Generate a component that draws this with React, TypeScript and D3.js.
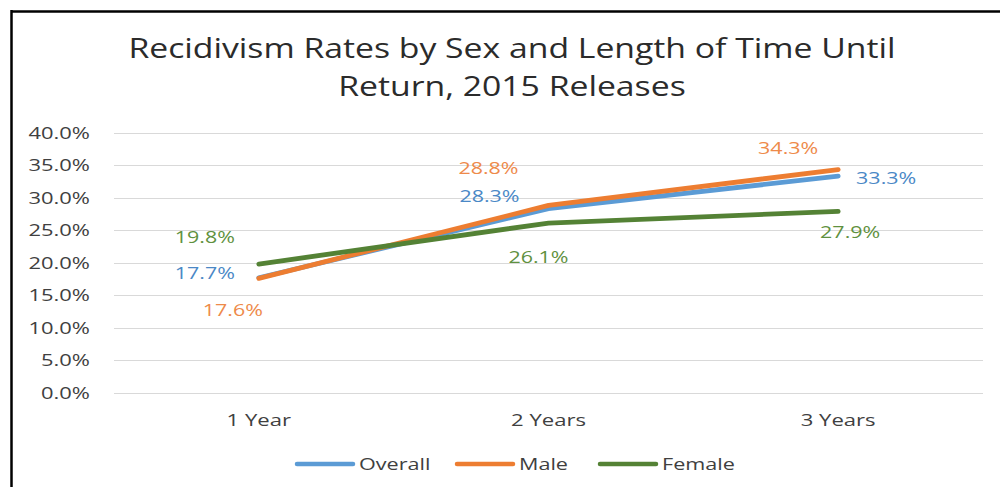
import React from "react";
import * as d3 from "d3";

const categories = ["1 Year", "2 Years", "3 Years"];
const overall = [17.7, 28.3, 33.3];
const male = [17.6, 28.8, 34.3];
const female = [19.8, 26.1, 27.9];
const yTicks = [0, 5, 10, 15, 20, 25, 30, 35, 40];
const seriesNames = ["Overall", "Male", "Female"];
const titleLines = ["Recidivism Rates by Sex and Length of Time Until", "Return, 2015 Releases"];

const W = 1000;
const H = 487;
const FONT = "'Open Sans', sans-serif";
const SX = 1.3;

const series = [
  { name: seriesNames[0], values: overall, color: "#5B9BD5", label: "#4A88C6", off: [[-54, -5], [-59, -13], [48, 2]] },
  { name: seriesNames[1], values: male, color: "#ED7D31", label: "#EE8A4A", off: [[-26, 32], [-60, -37], [-50, -22]] },
  { name: seriesNames[2], values: female, color: "#548235", label: "#5F9140", off: [[-54, -27], [-10, 34], [12, 21]] },
];

function T({ x, y, text, size, fill, anchor = "middle", sx = SX, weight = 400 }: any) {
  return (
    <g transform={`translate(${x},${y}) scale(${sx},1)`}>
      <text x={0} y={0} textAnchor={anchor} fontSize={size} fill={fill} fontFamily={FONT} fontWeight={weight}>
        {text}
      </text>
    </g>
  );
}

export default function App() {
  const x = d3.scaleBand().domain(categories).range([114, 983]);
  const y = d3.scaleLinear().domain([0, 40]).range([393, 132.5]);
  const cx = (c: string) => (x(c) as number) + x.bandwidth() / 2;
  const line = d3
    .line<number>()
    .x((_, i) => cx(categories[i]))
    .y((d) => y(d));

  const legendX = [297, 457, 600];

  return (
    <svg width={W} height={H} style={{ position: "absolute", left: 0, top: 0, background: "#fff" }}>
      <rect x={0} y={0} width={W} height={H} fill="#fff" />
      <line x1={11.5} y1={11.5} x2={W} y2={11.5} stroke="#000" strokeWidth={2.5} />
      <line x1={11.5} y1={10} x2={11.5} y2={H} stroke="#000" strokeWidth={2.5} />

      {titleLines.map((t, i) => (
        <T key={t} x={512} y={58 + i * 37.5} text={t} size={27} fill="#2b2b2b" sx={1.25} />
      ))}

      {yTicks.map((v) => (
        <g key={v}>
          <line x1={114} x2={983} y1={Math.round(y(v)) + 0.5} y2={Math.round(y(v)) + 0.5} stroke="#D9D9D9" strokeWidth={1} />
          <T x={90} y={y(v) + 6} text={`${v.toFixed(1)}%`} size={16.5} fill="#404040" anchor="end" sx={1.33} />
        </g>
      ))}

      {categories.map((c) => (
        <T key={c} x={cx(c)} y={426} text={c} size={17} fill="#404040" />
      ))}

      {series.map((s) => (
        <path key={s.name} d={line(s.values) as string} fill="none" stroke={s.color} strokeWidth={4.8} strokeLinecap="round" strokeLinejoin="round" />
      ))}

      {series.map((s) =>
        s.values.map((v, i) => (
          <T
            key={s.name + i}
            x={cx(categories[i]) + s.off[i][0]}
            y={y(v) + s.off[i][1] + 6}
            text={`${v.toFixed(1)}%`}
            size={16.5}
            fill={s.label}
          />
        ))
      )}

      {series.map((s, i) => (
        <g key={"lg" + s.name}>
          <line x1={legendX[i]} x2={legendX[i] + 56} y1={464} y2={464} stroke={s.color} strokeWidth={4.5} strokeLinecap="round" />
          <T x={legendX[i] + 62} y={470} text={s.name} size={17} fill="#404040" anchor="start" sx={1.27} />
        </g>
      ))}
    </svg>
  );
}
